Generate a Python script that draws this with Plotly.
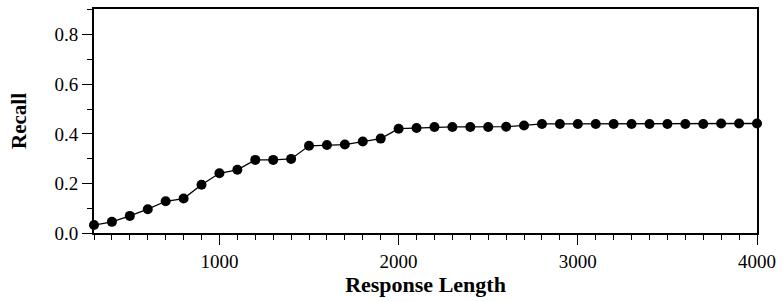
import plotly.graph_objects as go

response_length = list(range(300, 4001, 100))
recall = [0.032, 0.045, 0.069, 0.096, 0.128, 0.139, 0.195, 0.241, 0.255, 0.295,
          0.295, 0.299, 0.352, 0.355, 0.357, 0.369, 0.381, 0.421, 0.424, 0.428,
          0.428, 0.428, 0.428, 0.429, 0.434, 0.440, 0.440, 0.440, 0.440, 0.440,
          0.440, 0.440, 0.440, 0.440, 0.440, 0.442, 0.442, 0.442]

x_ticks = [1000, 2000, 3000, 4000]
y_ticks = [0.0, 0.2, 0.4, 0.6, 0.8]
y_tick_text = ["0.0", "0.2", "0.4", "0.6", "0.8"]

font_family = "Liberation Serif"

fig = go.Figure()
fig.add_trace(go.Scatter(
    x=response_length, y=recall, mode="lines+markers",
    line=dict(color="black", width=1.3),
    marker=dict(color="black", size=10),
    cliponaxis=False, showlegend=False,
))

fig.update_layout(
    width=783, height=301,
    margin=dict(l=94, r=23, t=7, b=68),
    paper_bgcolor="white", plot_bgcolor="white",
    font=dict(family=font_family, color="black", size=19),
)
fig.update_xaxes(
    range=[300, 4000], tickvals=x_ticks, ticktext=[str(v) for v in x_ticks],
    ticks="outside", ticklen=10, tickwidth=1.3, tickcolor="black",
    minor=dict(dtick=100, tick0=0, ticks="outside", ticklen=5, tickwidth=1.2, tickcolor="black"),
    showline=True, linecolor="black", linewidth=1.8, mirror=True,
    showgrid=False, zeroline=False,
    tickfont=dict(size=19),
    title=dict(text="<b>Response Length</b>", font=dict(size=22), standoff=5),
)
fig.update_yaxes(
    range=[0, 0.904], tickvals=y_ticks, ticktext=y_tick_text,
    ticks="outside", ticklen=10, tickwidth=1.3, tickcolor="black",
    minor=dict(dtick=0.1, tick0=0, ticks="outside", ticklen=5, tickwidth=1.2, tickcolor="black"),
    showline=True, linecolor="black", linewidth=1.8, mirror=True,
    showgrid=False, zeroline=False,
    tickfont=dict(size=19),
    title=dict(text="<b>Recall</b>", font=dict(size=21), standoff=22),
)

fig.write_html("out.html", config={"displayModeBar": False},
               post_script="document.body.style.margin='0';")
